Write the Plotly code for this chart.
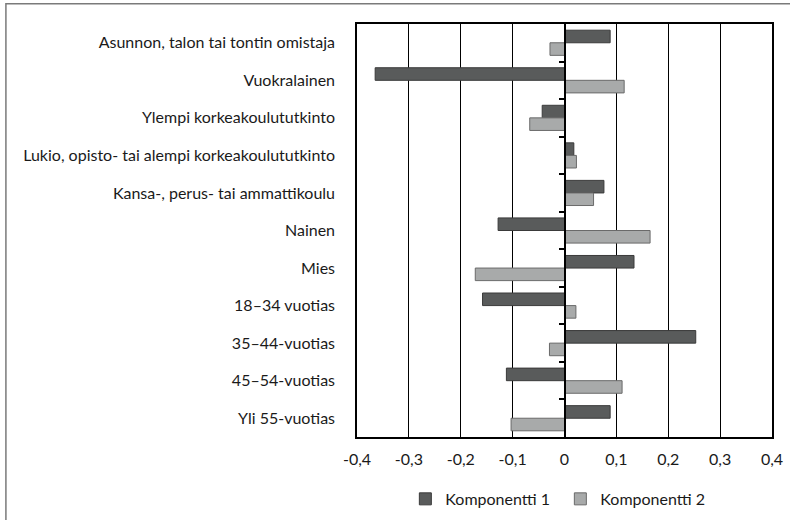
import plotly.graph_objects as go

categories = [
    "Asunnon, talon tai tontin omistaja",
    "Vuokralainen",
    "Ylempi korkeakoulututkinto",
    "Lukio, opisto- tai alempi korkeakoulututkinto",
    "Kansa-, perus- tai ammattikoulu",
    "Nainen",
    "Mies",
    "18–34 vuotias",
    "35–44-vuotias",
    "45–54-vuotias",
    "Yli 55-vuotias",
]
komponentti_1 = [0.088, -0.365, -0.043, 0.018, 0.076, -0.128, 0.134, -0.158, 0.253, -0.112, 0.088]
komponentti_2 = [-0.028, 0.115, -0.067, 0.023, 0.056, 0.165, -0.172, 0.022, -0.029, 0.111, -0.103]
series_names = ["Komponentti 1", "Komponentti 2"]
x_tickvals = [-0.4, -0.3, -0.2, -0.1, 0, 0.1, 0.2, 0.3, 0.4]
x_ticktext = ["-0,4", "-0,3", "-0,2", "-0,1", "0", "0,1", "0,2", "0,3", "0,4"]
boundary_ticks = [0.5, 1.5, 2.5, 3.5, 4.5, 5.5, 6.5, 7.5, 8.5, 9.5]

FONT = "Lato, 'Open Sans', sans-serif"
TXT = "#1a1a1a"

fig = go.Figure()
fig.add_trace(go.Bar(
    y=categories, x=komponentti_1, name=series_names[0], orientation="h",
    marker=dict(color="#595b5b", line=dict(color="#3a3a3a", width=1)),
))
fig.add_trace(go.Bar(
    y=categories, x=komponentti_2, name=series_names[1], orientation="h",
    marker=dict(color="#a8aaaa", line=dict(color="#6a6a6a", width=1)),
))
# empty helper trace so the zero-position category axis (with its boundary ticks) is drawn
fig.add_trace(go.Scatter(x=[], y=[], yaxis="y2", showlegend=False, hoverinfo="skip"))

fig.update_layout(
    width=790, height=520,
    margin=dict(l=357, r=18, t=24, b=83, autoexpand=False),
    paper_bgcolor="white", plot_bgcolor="white",
    barmode="group", bargap=0.33, bargroupgap=0,
    font=dict(family=FONT, size=16, color=TXT),
    legend=dict(orientation="h", x=0.49, xanchor="center", y=-0.15, yanchor="middle",
                font=dict(size=16, color=TXT), itemwidth=30, entrywidth=110,
                traceorder="normal"),
    xaxis=dict(range=[-0.4, 0.4], tickvals=x_tickvals, ticktext=x_ticktext, automargin=False,
               showgrid=True, gridcolor="black", gridwidth=1,
               zeroline=False, showline=True, linecolor="black", linewidth=1.5, mirror=True,
               ticks="", ticklabelstandoff=7, tickfont=dict(size=16, color=TXT)),
    yaxis=dict(categoryorder="array", categoryarray=categories, autorange="reversed",
               automargin=False,
               showgrid=False, zeroline=False, showline=True, linecolor="black", linewidth=1.5,
               mirror=True, ticks="", ticklabelstandoff=17, tickfont=dict(size=16, color=TXT)),
    yaxis2=dict(overlaying="y", anchor="free", position=0.5, side="left", automargin=False,
                range=[10.5, -0.5], autorange=False, tickvals=boundary_ticks,
                ticks="outside", ticklen=5,
                tickcolor="black", tickwidth=1.5, showticklabels=False,
                showline=True, linecolor="black", linewidth=1.8, showgrid=False, zeroline=False),
    shapes=[dict(type="rect", xref="paper", yref="paper",
                 x0=-0.846, x1=1.2, y0=-0.4, y1=1.049,
                 line=dict(color="#7a7a7a", width=1.5), fillcolor="rgba(0,0,0,0)", layer="below")],
)

fig.write_html("out.html", config={"displayModeBar": False},
               post_script="document.body.style.margin='0';")
